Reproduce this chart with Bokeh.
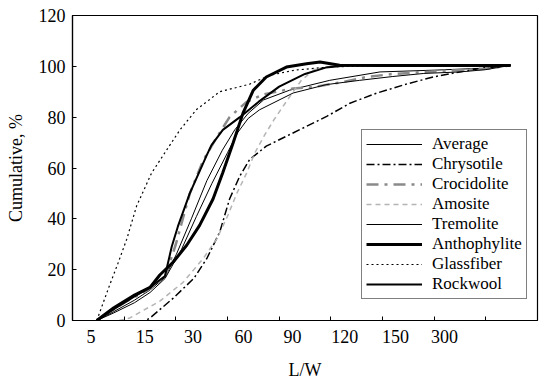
from bokeh.plotting import figure
from bokeh.models import Range1d, FixedTicker, Legend, LegendItem
from bokeh.embed import file_html
from bokeh.resources import INLINE

# x is in axis units (0..9); category labels and tick marks along it
x_tick_labels = ["5", "15", "30", "60", "90", "120", "150", "300"]
x_label_pos = [0.36, 1.40, 2.33, 3.31, 4.26, 5.27, 6.25, 7.20]
x_tick_pos = [1, 2, 3, 4, 5, 6, 7, 8]
y_ticks = [0, 20, 40, 60, 80, 100, 120]

average_x = [0.47, 0.8, 1.2, 1.5, 1.79, 2.01, 2.3, 2.6, 2.9, 3.14, 3.4, 3.7, 4.2, 4.98, 5.95, 7.0, 8.0, 8.48]
average_y = [0, 3.5, 8, 12, 17, 26, 40, 55, 67, 75, 81.5, 86.8, 90.6, 94.5, 97.8, 98.5, 99.3, 100.4]

chrysotile_x = [0.95, 1.3, 1.5, 1.95, 2.35, 2.6, 2.85, 3.04, 3.24, 3.43, 3.75, 4.14, 4.53, 4.92, 5.37, 5.88, 6.46, 6.98, 7.49, 8.01, 8.48]
chrysotile_y = [-1, -1.5, 1, 8.8, 16.6, 24.4, 34.8, 47.8, 56.9, 63.4, 68.6, 72.5, 76.4, 80.3, 85.5, 89.4, 93.0, 95.8, 97.8, 99.5, 100.4]

crocidolite_x = [0.47, 1.0, 1.5, 1.79, 2.0, 2.27, 2.53, 2.79, 3.04, 3.37, 3.7, 4.27, 4.66, 5.24, 5.69, 6.2, 7.0, 8.0, 8.48]
crocidolite_y = [0, 7, 12.5, 17, 30, 50, 63, 72, 80, 86, 89, 91.3, 91.8, 93.9, 95.8, 97, 98, 99, 100.4]

amosite_x = [0.9, 1.11, 1.69, 2.14, 2.53, 2.79, 3.0, 3.18, 3.37, 3.53, 3.72, 3.9, 4.1, 4.27, 4.43, 4.7, 5.0, 6.0, 8.48]
amosite_y = [0, 1, 7.6, 15, 24.4, 32, 41, 50, 58, 66, 73, 79, 85, 90, 94.5, 99, 100, 100.3, 100.4]

tremolite_x = [0.47, 0.8, 1.2, 1.5, 1.79, 2.11, 2.4, 2.7, 3.0, 3.2, 3.4, 3.62, 4.27, 4.91, 5.56, 6.2, 6.8, 7.5, 8.0, 8.48]
tremolite_y = [0, 3, 7, 11, 16.5, 28, 41, 54, 66, 74, 79.5, 82.9, 89.5, 92.8, 94.5, 96, 97.2, 97.8, 98.7, 100.4]

anthophylite_x = [0.47, 0.8, 1.2, 1.5, 1.69, 1.95, 2.21, 2.46, 2.72, 2.91, 3.11, 3.30, 3.5, 3.75, 4.14, 4.53, 4.79, 5.17, 6.0, 8.48]
anthophylite_y = [0, 5, 10, 13, 17.9, 23, 29.6, 37.4, 47.8, 58.2, 69.9, 81.6, 90.6, 95.8, 99.7, 101, 101.7, 100.4, 100.3, 100.3]

glassfiber_x = [0.47, 0.72, 0.88, 1.05, 1.24, 1.53, 1.82, 2.08, 2.4, 2.85, 3.43, 3.82, 4.3, 5.0, 6.0, 8.48]
glassfiber_y = [0, 14, 22.5, 32, 45, 58, 67, 75, 83, 90, 93, 96.5, 98.5, 99.8, 100.3, 100.4]

rockwool_x = [0.47, 0.8, 1.2, 1.5, 1.79, 1.92, 2.04, 2.27, 2.59, 2.69, 2.91, 3.24, 3.6, 4.0, 4.5, 4.9, 5.3, 8.48]
rockwool_y = [0, 4.5, 9.5, 13, 17.5, 29, 37, 50, 64.7, 69, 75, 80, 86, 92, 97, 99.5, 100.3, 100.4]

FONT = "Liberation Serif"

p = figure(width=539, height=382, output_backend="svg", toolbar_location=None,
           x_range=Range1d(0, 9), y_range=Range1d(0, 120),
           min_border_left=72, min_border_right=2, min_border_top=15, min_border_bottom=59)
p.grid.visible = False
p.outline_line_color = "black"
p.outline_line_width = 1.2

# axes
xa = p.xaxis[0]
xa.ticker = FixedTicker(ticks=x_label_pos, minor_ticks=x_tick_pos)
xa.major_label_overrides = {v: t for v, t in zip(x_label_pos, x_tick_labels)}
xa.major_tick_in = 0
xa.major_tick_out = 0
xa.minor_tick_in = 4
xa.minor_tick_out = 0
xa.axis_label = "L/W"

ya = p.yaxis[0]
ya.ticker = FixedTicker(ticks=y_ticks)
ya.major_tick_in = 4
ya.major_tick_out = 0
ya.minor_tick_in = 0
ya.minor_tick_out = 0
ya.axis_label = "Cumulative, %"

for ax in (xa, ya):
    ax.axis_line_color = "black"
    ax.axis_line_width = 1.2
    ax.major_tick_line_color = "black"
    ax.minor_tick_line_color = "black"
    ax.major_label_text_font = FONT
    ax.major_label_text_font_size = "18px"
    ax.major_label_text_color = "black"
    ax.axis_label_text_font = FONT
    ax.axis_label_text_font_size = "18px"
    ax.axis_label_text_font_style = "normal"
    ax.axis_label_text_color = "black"
xa.major_label_standoff = 9
ya.major_label_standoff = 7
xa.axis_label_standoff = 14
ya.axis_label_standoff = 10

series = [
    ("Average", average_x, average_y, dict(line_color="black", line_width=1)),
    ("Chrysotile", chrysotile_x, chrysotile_y, dict(line_color="black", line_width=1.5, line_dash="8 3 2 3")),
    ("Crocidolite", crocidolite_x, crocidolite_y, dict(line_color="#8a8a8a", line_width=2.5, line_dash="12 6 3 6")),
    ("Amosite", amosite_x, amosite_y, dict(line_color="#b4b4b4", line_width=1.5, line_dash="5 4")),
    ("Tremolite", tremolite_x, tremolite_y, dict(line_color="black", line_width=1)),
    ("Anthophylite", anthophylite_x, anthophylite_y, dict(line_color="black", line_width=3)),
    ("Glassfiber", glassfiber_x, glassfiber_y, dict(line_color="black", line_width=1.2, line_dash="2 3")),
    ("Rockwool", rockwool_x, rockwool_y, dict(line_color="black", line_width=2)),
]

items = []
for name, xs, ys, style in series:
    r = p.line(xs, ys, **style)
    items.append(LegendItem(label=name, renderers=[r]))

legend = Legend(items=items, location=(289, 21))
legend.border_line_color = "black"
legend.border_line_width = 1.2
legend.background_fill_color = "white"
legend.background_fill_alpha = 1
legend.label_text_font = FONT
legend.label_text_font_size = "17px"
legend.label_text_color = "black"
legend.glyph_width = 56
legend.glyph_height = 14
legend.label_height = 14
legend.label_standoff = 10
legend.spacing = 0
legend.padding = 4
legend.margin = 0
p.add_layout(legend, "center")

open("out.html", "w").write(file_html(p, INLINE))
